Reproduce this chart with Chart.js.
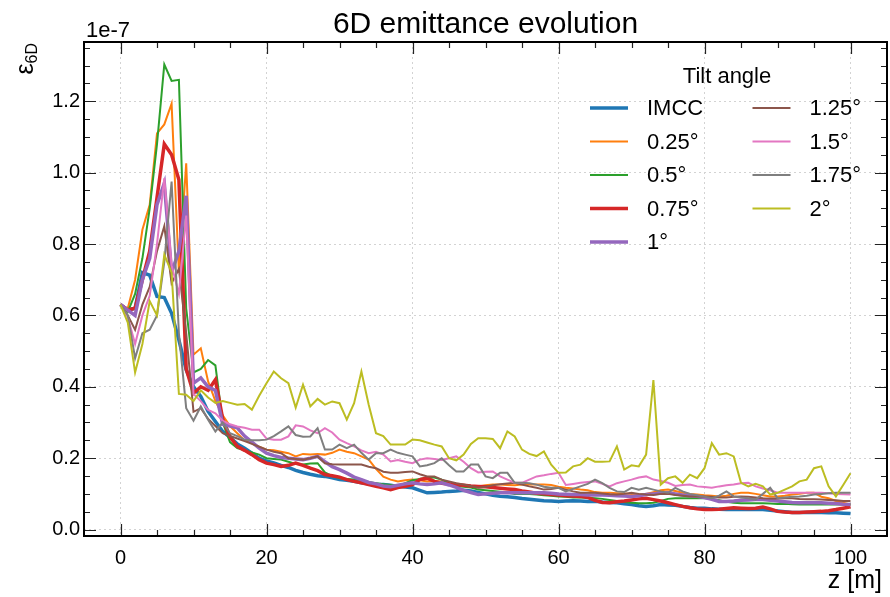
<!DOCTYPE html>
<html>
<head>
<meta charset="utf-8">
<script src="https://cdn.jsdelivr.net/npm/chart.js@4.4.1/dist/chart.umd.min.js"></script>
<style>
    body { margin: 0; background: #fff; }
    #wrap { width: 890px; height: 597px; }
</style>
</head>
<body>
<div id="wrap"><canvas id="emittanceChart" width="890" height="597"></canvas></div>
<script>
"use strict";

// z positions along the channel [m]
const zValues = [0,1,2,3,4,5,6,7,8,9,10,11,12,13,14,15,16,17,18,19,20,21,22,23,24,25,26,27,28,29,30,31,32,33,34,35,36,37,38,39,40,41,42,43,44,45,46,47,48,49,50,51,52,53,54,55,56,57,58,59,60,61,62,63,64,65,66,67,68,69,70,71,72,73,74,75,76,77,78,79,80,81,82,83,84,85,86,87,88,89,90,91,92,93,94,95,96,97,98,99,100];

// 6D emittance, units of 1e-7
const imcc = [0.63,0.615,0.62,0.72,0.713,0.653,0.65,0.606,0.531,0.447,0.40,0.373,0.331,0.303,0.275,0.258,0.24,0.228,0.214,0.2,0.192,0.187,0.18,0.174,0.166,0.16,0.155,0.151,0.149,0.145,0.14,0.138,0.135,0.131,0.128,0.126,0.126,0.124,0.121,0.119,0.117,0.11,0.103,0.104,0.105,0.107,0.108,0.11,0.108,0.104,0.1,0.096,0.093,0.092,0.09,0.087,0.085,0.083,0.081,0.08,0.079,0.08,0.081,0.08,0.079,0.079,0.077,0.076,0.075,0.072,0.07,0.067,0.065,0.067,0.07,0.069,0.068,0.065,0.062,0.06,0.06,0.058,0.057,0.056,0.056,0.056,0.056,0.056,0.056,0.054,0.052,0.05,0.048,0.048,0.048,0.048,0.048,0.047,0.047,0.046,0.045];
const tilt025 = [0.63,0.62,0.70,0.84,0.91,1.11,1.135,1.193,0.72,1.026,0.49,0.508,0.415,0.36,0.32,0.29,0.27,0.25,0.243,0.232,0.224,0.222,0.218,0.214,0.205,0.212,0.21,0.212,0.21,0.215,0.224,0.218,0.214,0.205,0.196,0.17,0.148,0.14,0.135,0.138,0.14,0.138,0.135,0.136,0.135,0.13,0.126,0.124,0.122,0.121,0.124,0.126,0.126,0.125,0.124,0.126,0.127,0.126,0.126,0.125,0.12,0.117,0.115,0.112,0.11,0.105,0.103,0.103,0.102,0.101,0.1,0.098,0.1,0.105,0.11,0.112,0.108,0.103,0.1,0.098,0.096,0.095,0.093,0.095,0.1,0.103,0.103,0.1,0.096,0.093,0.093,0.095,0.098,0.1,0.103,0.103,0.092,0.088,0.08,0.075,0.07];
const tilt05 = [0.63,0.61,0.66,0.76,0.90,1.08,1.303,1.257,1.26,0.62,0.44,0.45,0.475,0.46,0.30,0.245,0.228,0.222,0.216,0.21,0.2,0.198,0.196,0.19,0.184,0.182,0.185,0.186,0.16,0.15,0.144,0.142,0.14,0.137,0.133,0.13,0.127,0.125,0.122,0.13,0.138,0.142,0.146,0.146,0.14,0.13,0.122,0.12,0.118,0.112,0.11,0.108,0.106,0.104,0.1,0.1,0.1,0.098,0.096,0.095,0.093,0.092,0.09,0.09,0.089,0.088,0.086,0.083,0.08,0.077,0.075,0.074,0.074,0.075,0.08,0.086,0.088,0.088,0.088,0.088,0.088,0.086,0.082,0.078,0.075,0.074,0.074,0.074,0.074,0.073,0.072,0.072,0.071,0.07,0.07,0.07,0.07,0.07,0.07,0.07,0.07];
const tilt075 = [0.63,0.615,0.62,0.70,0.78,0.93,1.08,1.05,0.98,0.45,0.382,0.40,0.39,0.42,0.31,0.26,0.233,0.222,0.21,0.196,0.186,0.182,0.177,0.18,0.186,0.18,0.172,0.165,0.154,0.151,0.147,0.14,0.135,0.131,0.126,0.121,0.117,0.112,0.118,0.121,0.126,0.14,0.144,0.135,0.13,0.128,0.126,0.124,0.122,0.121,0.12,0.118,0.116,0.114,0.112,0.108,0.105,0.102,0.1,0.098,0.097,0.095,0.094,0.093,0.09,0.082,0.076,0.075,0.078,0.08,0.083,0.086,0.088,0.084,0.08,0.075,0.07,0.065,0.061,0.058,0.056,0.056,0.057,0.059,0.061,0.06,0.059,0.06,0.063,0.058,0.051,0.049,0.048,0.048,0.049,0.05,0.051,0.053,0.056,0.06,0.064];
const tilt1 = [0.63,0.615,0.60,0.70,0.76,0.91,0.97,0.72,0.78,0.935,0.41,0.425,0.40,0.39,0.295,0.29,0.285,0.262,0.245,0.228,0.214,0.207,0.202,0.2,0.198,0.196,0.2,0.205,0.19,0.176,0.168,0.158,0.147,0.14,0.132,0.128,0.122,0.12,0.124,0.128,0.131,0.128,0.126,0.128,0.131,0.125,0.118,0.11,0.104,0.098,0.1,0.102,0.103,0.103,0.103,0.103,0.103,0.103,0.103,0.102,0.1,0.099,0.098,0.098,0.097,0.097,0.097,0.096,0.095,0.094,0.093,0.095,0.098,0.1,0.102,0.103,0.1,0.097,0.095,0.093,0.09,0.085,0.079,0.079,0.08,0.082,0.083,0.084,0.084,0.082,0.08,0.078,0.076,0.075,0.075,0.075,0.075,0.074,0.073,0.071,0.07];
const tilt125 = [0.63,0.60,0.56,0.63,0.68,0.78,0.85,0.69,0.73,0.55,0.33,0.34,0.31,0.29,0.27,0.262,0.255,0.248,0.24,0.232,0.224,0.218,0.214,0.2,0.198,0.196,0.2,0.205,0.186,0.183,0.182,0.182,0.182,0.182,0.176,0.172,0.162,0.159,0.159,0.161,0.163,0.155,0.149,0.149,0.14,0.135,0.13,0.126,0.122,0.117,0.12,0.124,0.127,0.129,0.131,0.126,0.121,0.117,0.112,0.114,0.117,0.112,0.107,0.103,0.103,0.103,0.101,0.099,0.098,0.1,0.103,0.1,0.098,0.097,0.1,0.1,0.097,0.095,0.093,0.093,0.093,0.092,0.09,0.09,0.092,0.093,0.092,0.09,0.088,0.087,0.087,0.088,0.088,0.086,0.085,0.085,0.084,0.083,0.082,0.08,0.08];
const tilt15 = [0.63,0.595,0.52,0.60,0.655,0.80,0.985,0.74,0.66,0.88,0.38,0.36,0.335,0.326,0.305,0.295,0.289,0.285,0.28,0.28,0.255,0.252,0.252,0.261,0.292,0.289,0.278,0.27,0.284,0.272,0.252,0.242,0.233,0.222,0.214,0.218,0.21,0.191,0.195,0.19,0.186,0.196,0.2,0.198,0.195,0.2,0.205,0.19,0.172,0.16,0.162,0.163,0.149,0.14,0.131,0.131,0.14,0.149,0.152,0.156,0.159,0.125,0.128,0.131,0.133,0.135,0.128,0.121,0.13,0.135,0.14,0.146,0.149,0.14,0.136,0.131,0.122,0.125,0.126,0.121,0.119,0.117,0.121,0.124,0.126,0.13,0.131,0.121,0.115,0.11,0.103,0.103,0.103,0.103,0.103,0.103,0.103,0.102,0.1,0.099,0.098];
const tilt175 = [0.63,0.60,0.48,0.55,0.56,0.60,0.75,0.975,0.55,0.34,0.305,0.345,0.308,0.275,0.30,0.27,0.262,0.252,0.25,0.25,0.252,0.262,0.275,0.289,0.265,0.26,0.261,0.284,0.224,0.224,0.238,0.228,0.238,0.215,0.196,0.214,0.214,0.224,0.215,0.21,0.205,0.177,0.18,0.186,0.2,0.18,0.163,0.163,0.182,0.182,0.149,0.144,0.159,0.159,0.131,0.131,0.13,0.126,0.12,0.117,0.117,0.107,0.114,0.121,0.128,0.14,0.13,0.117,0.107,0.105,0.117,0.112,0.117,0.112,0.107,0.103,0.117,0.107,0.1,0.096,0.092,0.088,0.095,0.107,0.093,0.09,0.088,0.084,0.1,0.117,0.088,0.09,0.092,0.093,0.095,0.098,0.1,0.102,0.103,0.103,0.103];
const tilt2 = [0.63,0.58,0.44,0.52,0.64,0.60,0.77,0.72,0.38,0.378,0.36,0.39,0.37,0.355,0.36,0.355,0.35,0.352,0.336,0.375,0.41,0.443,0.424,0.41,0.342,0.406,0.345,0.366,0.35,0.359,0.354,0.308,0.354,0.443,0.35,0.27,0.262,0.238,0.238,0.238,0.252,0.25,0.244,0.238,0.233,0.2,0.194,0.21,0.24,0.256,0.256,0.254,0.228,0.275,0.261,0.224,0.212,0.206,0.219,0.182,0.159,0.16,0.177,0.182,0.2,0.19,0.19,0.191,0.233,0.168,0.18,0.177,0.21,0.419,0.126,0.144,0.149,0.131,0.154,0.144,0.172,0.242,0.21,0.214,0.205,0.131,0.121,0.128,0.121,0.098,0.103,0.112,0.121,0.135,0.14,0.172,0.177,0.121,0.093,0.125,0.158];

const seriesLabels = ["IMCC", "0.25°", "0.5°", "0.75°", "1°", "1.25°", "1.5°", "1.75°", "2°"];
const seriesValues = [imcc, tilt025, tilt05, tilt075, tilt1, tilt125, tilt15, tilt175, tilt2];
const seriesColors = ["#1f77b4", "#ff7f0e", "#2ca02c", "#d62728", "#9467bd", "#8c564b", "#e377c2", "#7f7f7f", "#bcbd22"];
const seriesWidths = [3.5, 2, 2, 3.5, 3.5, 2, 2, 2, 2];

const xTicks = [0, 20, 40, 60, 80, 100];
const yTicks = [0, 0.2, 0.4, 0.6, 0.8, 1.0, 1.2];

const FONT = "'Liberation Sans', Arial, sans-serif";
Chart.defaults.font.family = FONT;
Chart.defaults.color = "#000";

const datasets = seriesValues.map(function (vals, i) {
    return {
        label: seriesLabels[i],
        data: zValues.map(function (z, k) { return { x: z, y: vals[k] }; }),
        borderColor: seriesColors[i],
        backgroundColor: seriesColors[i],
        borderWidth: seriesWidths[i],
        pointRadius: 0,
        tension: 0,
        fill: false,
        order: seriesValues.length - i,
    };
});

// frame, inward ticks, titles and the two-column legend
const decorPlugin = {
    id: "decor",
    afterDraw: function (chart) {
        const ctx = chart.ctx;
        const a = chart.chartArea;
        const xs = chart.scales.x;
        const ys = chart.scales.y;
        ctx.save();
        ctx.setLineDash([]);

        ctx.strokeStyle = "#222";
        ctx.lineWidth = 1.2;
        function tickX(v, len) {
            let p = Math.round(xs.getPixelForValue(v)) + 0.5;
            ctx.beginPath();
            ctx.moveTo(p, a.bottom); ctx.lineTo(p, a.bottom - len);
            ctx.moveTo(p, a.top); ctx.lineTo(p, a.top + len);
            ctx.stroke();
        }
        function tickY(v, len) {
            let p = Math.round(ys.getPixelForValue(v)) + 0.5;
            ctx.beginPath();
            ctx.moveTo(a.left, p); ctx.lineTo(a.left + len, p);
            ctx.moveTo(a.right, p); ctx.lineTo(a.right - len, p);
            ctx.stroke();
        }
        for (let v = 0; v <= 100; v += 5) {
            tickX(v, v % 20 === 0 ? 12 : 6);
        }
        for (let k = 0; k <= 27; k++) {
            tickY(k * 0.05, k % 4 === 0 ? 12 : 6);
        }

        ctx.strokeStyle = "#000";
        ctx.lineWidth = 2;
        ctx.strokeRect(a.left, a.top, a.right - a.left, a.bottom - a.top);

        ctx.fillStyle = "#000";
        ctx.textBaseline = "alphabetic";
        ctx.textAlign = "center";
        ctx.font = "30px " + FONT;
        ctx.fillText("6D emittance evolution", (a.left + a.right) / 2, 33);

        ctx.textAlign = "left";
        ctx.font = "22px " + FONT;
        ctx.fillText("1e-7", a.left + 2, 37);

        ctx.textAlign = "right";
        ctx.font = "25px " + FONT;
        ctx.fillText("z [m]", a.right - 5, 588);

        // rotated y label
        ctx.save();
        ctx.translate(33, 43);
        ctx.rotate(-Math.PI / 2);
        ctx.textAlign = "left";
        ctx.font = "16px " + FONT;
        let wSub = ctx.measureText("6D").width;
        ctx.font = "25px " + FONT;
        let wEps = ctx.measureText("ε").width;
        ctx.fillText("ε", -(wSub + wEps), 0);
        ctx.font = "16px " + FONT;
        ctx.fillText("6D", -wSub, 4);
        ctx.restore();

        // legend
        ctx.textAlign = "center";
        ctx.font = "22px " + FONT;
        ctx.fillText("Tilt angle", 727, 83);
        ctx.textAlign = "left";
        ctx.textBaseline = "middle";
        ctx.lineCap = "butt";
        const rowY = [108, 141.5, 175, 208.5, 242];
        chart.data.datasets.forEach(function (ds, i) {
            let col = i < 5 ? 0 : 1;
            let row = i < 5 ? i : i - 5;
            let x0 = col === 0 ? 590 : 752.5;
            let y0 = rowY[row];
            ctx.strokeStyle = ds.borderColor;
            ctx.lineWidth = ds.borderWidth;
            ctx.beginPath();
            ctx.moveTo(x0, y0); ctx.lineTo(x0 + 38, y0);
            ctx.stroke();
            ctx.fillText(ds.label, x0 + 57, y0 + 1);
        });
        ctx.restore();
    },
};

new Chart(document.getElementById("emittanceChart"), {
    type: "line",
    data: { datasets: datasets },
    options: {
        responsive: false,
        animation: false,
        layout: { padding: { top: 42, right: 3, left: 0, bottom: 0 } },
        plugins: {
            legend: { display: false },
            title: { display: false },
            tooltip: { enabled: false },
        },
        scales: {
            x: {
                type: "linear",
                min: -5,
                max: 105,
                afterFit: function (scale) { scale.height = 61; },
                afterBuildTicks: function (scale) {
                    scale.ticks = xTicks.map(function (v) { return { value: v }; });
                },
                grid: { color: "#d3d3d3", lineWidth: 1, drawTicks: false },
                border: { display: false, dash: [2, 3] },
                ticks: {
                    padding: 10,
                    maxRotation: 0,
                    font: { size: 20 },
                    callback: function (v) { return String(v); },
                },
            },
            y: {
                type: "linear",
                min: -0.018,
                max: 1.366,
                afterFit: function (scale) { scale.width = 84; },
                afterBuildTicks: function (scale) {
                    scale.ticks = yTicks.map(function (v) { return { value: v }; });
                },
                grid: { color: "#d3d3d3", lineWidth: 1, drawTicks: false },
                border: { display: false, dash: [2, 3] },
                ticks: {
                    padding: 4,
                    font: { size: 20 },
                    callback: function (v) { return Number(v).toFixed(1); },
                },
            },
        },
    },
    plugins: [decorPlugin],
});
</script>
</body>
</html>
